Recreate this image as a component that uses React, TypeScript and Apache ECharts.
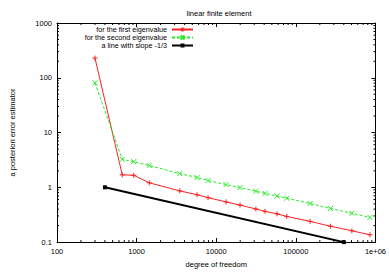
import React, { useEffect, useRef } from "react";
import * as echarts from "echarts";

const dofs = [300, 660, 920, 1440, 3480, 5740, 7890, 13300, 19900, 31500, 41000, 58000, 76900, 151000, 272000, 505000, 853000];
const firstEig = [229, 1.69, 1.66, 1.21, 0.861, 0.731, 0.647, 0.542, 0.474, 0.402, 0.364, 0.328, 0.294, 0.239, 0.195, 0.161, 0.136];
const secondEig = [81, 3.24, 2.94, 2.5, 1.78, 1.51, 1.33, 1.12, 0.988, 0.849, 0.774, 0.693, 0.631, 0.506, 0.412, 0.336, 0.282];
const slopeX = [400, 400000];
const slopeY = [1, 0.1];

const seriesNames = ["for the first eigenvalue", "for the second eigenvalue", "a line with slope -1/3"];
const xMajor = [100, 1000, 10000, 100000, 1000000];
const yMajor = [0.1, 1, 10, 100, 1000];
const minorMult = [2, 3, 4, 5, 6, 7, 8, 9];

const FONT = "Liberation Sans, Arial, sans-serif";
const FS = 7.5;
const TXT = "#000";

function minorsOf(majors: number[]) {
  const out: number[] = [];
  for (let i = 0; i < majors.length - 1; i++) for (const m of minorMult) out.push(majors[i] * m);
  return out;
}

export default function App() {
  const ref = useRef<HTMLDivElement>(null);
  useEffect(() => {
    if (!ref.current) return;
    const chart = echarts.init(ref.current, undefined, { renderer: "svg" });
    const xMin = minorsOf(xMajor);
    const yMin = minorsOf(yMajor);
    const axisCommon = {
      type: "log" as const,
      logBase: 10,
      axisLine: { show: true, lineStyle: { color: "#000", width: 1 } },
      axisTick: { show: true, inside: true, length: 4, lineStyle: { color: "#000" } },
      splitLine: { show: false },
      minorTick: { show: false },
    };
    const label = { color: TXT, fontFamily: FONT, fontSize: FS };
    const fmt = (v: number) => (v >= 1e6 ? "1e+06" : String(+v.toPrecision(6)));
    const legendItem = (name: string, top: number) => ({
      data: [name],
      right: 195,
      top,
      orient: "vertical" as const,
      align: "right" as const,
      itemWidth: 21,
      itemHeight: 5,
      padding: 0,
      textStyle: { color: TXT, fontFamily: FONT, fontSize: 7.2, lineHeight: 7 },
      selectedMode: false,
    });
    chart.setOption({
      animation: false,
      title: {
        text: "linear finite element",
        left: 214,
        textAlign: "center",
        top: 4,
        textStyle: { color: TXT, fontFamily: FONT, fontSize: FS, fontWeight: "normal" },
      },
      legend: [legendItem(seriesNames[0], 26), legendItem(seriesNames[1], 34), legendItem(seriesNames[2], 42)],
      grid: { left: 51, right: 11, top: 23, bottom: 25, show: false },
      xAxis: [
        {
          ...axisCommon,
          min: 100,
          max: 1000000,
          position: "bottom",
          name: "degree of freedom",
          nameLocation: "middle",
          nameGap: 16,
          nameTextStyle: label,
          axisLabel: { ...label, margin: 5, formatter: fmt },
        },
        {
          ...axisCommon,
          min: 100,
          max: 1000000,
          position: "top",
          axisLabel: { show: false },
        },
      ],
      yAxis: [
        {
          ...axisCommon,
          min: 0.1,
          max: 1000,
          position: "left",
          name: "a posteriori error estimator",
          nameLocation: "middle",
          nameGap: 41,
          nameTextStyle: label,
          axisLabel: { ...label, margin: 5, formatter: fmt },
        },
        {
          ...axisCommon,
          min: 0.1,
          max: 1000,
          position: "right",
          axisLabel: { show: false },
        },
      ],
      series: [
        {
          name: seriesNames[0],
          type: "line",
          data: dofs.map((x, i) => [x, firstEig[i]]),
          symbol: "path://M5,0L5,10M0,5L10,5",
          symbolSize: 5,
          lineStyle: { color: "#ff2020", width: 1 },
          itemStyle: { color: "#ff2020", borderColor: "#ff2020", borderWidth: 1 },
        },
        {
          name: seriesNames[1],
          type: "line",
          data: dofs.map((x, i) => [x, secondEig[i]]),
          symbol: "path://M0,0L10,10M10,0L0,10",
          symbolSize: 5,
          lineStyle: { color: "#22ee22", width: 1, type: [3, 2] },
          itemStyle: { color: "#22ee22", borderColor: "#22ee22", borderWidth: 1 },
        },
        {
          name: seriesNames[2],
          type: "line",
          data: slopeX.map((x, i) => [x, slopeY[i]]),
          symbol: "rect",
          symbolSize: 4,
          lineStyle: { color: "#000", width: 2 },
          itemStyle: { color: "#000" },
        },
        {
          type: "custom",
          silent: true,
          data: [[1000, 1]],
          renderItem: (params: any, api: any) => {
            const cs = params.coordSys;
            const children: any[] = [];
            const st = { stroke: "#000", lineWidth: 1 };
            for (const v of xMin) {
              const x = api.coord([v, 1])[0];
              children.push({ type: "line", shape: { x1: x, y1: cs.y + cs.height, x2: x, y2: cs.y + cs.height - 2 }, style: st });
              children.push({ type: "line", shape: { x1: x, y1: cs.y, x2: x, y2: cs.y + 2 }, style: st });
            }
            for (const v of yMin) {
              const y = api.coord([1000, v])[1];
              children.push({ type: "line", shape: { x1: cs.x, y1: y, x2: cs.x + 2, y2: y }, style: st });
              children.push({ type: "line", shape: { x1: cs.x + cs.width, y1: y, x2: cs.x + cs.width - 2, y2: y }, style: st });
            }
            return { type: "group", children };
          },
        },
      ],
    });
    return () => chart.dispose();
  }, []);
  return <div ref={ref} style={{ width: 389, height: 273, position: "absolute", left: 0, top: 0, background: "#fff" }} />;
}
